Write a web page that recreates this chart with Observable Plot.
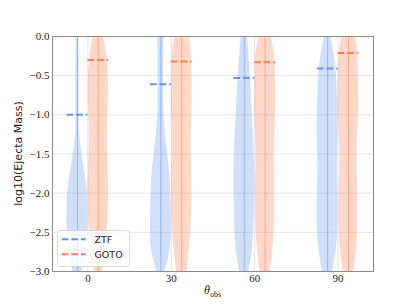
<!DOCTYPE html>
<html><head><meta charset="utf-8">
<script src="https://cdn.jsdelivr.net/npm/d3@7"></script>
<script src="https://cdn.jsdelivr.net/npm/@observablehq/plot@0.6"></script>
<style>body{margin:0;background:#fff;}</style>
</head><body><div id="chart"></div>
<script>
// ---- data ----
const angles = [0, 30, 60, 90];
const series = ["ZTF", "GOTO"];
const levels = [-3, -2.75, -2.5, -2.25, -2, -1.75, -1.5, -1.25, -1, -0.75, -0.5, -0.25, 0];
// relative violin density (1 = widest point of each violin), per level above
const ztfDensity = [
  [0.43, 0.80, 0.98, 1.00, 0.95, 0.71, 0.43, 0.20, 0.17, 0.16, 0.16, 0.15, 0.14],
  [0.40, 0.85, 1.00, 0.98, 0.94, 0.85, 0.65, 0.45, 0.30, 0.26, 0.26, 0.27, 0.30],
  [0.45, 0.75, 0.90, 0.95, 1.00, 1.00, 0.95, 0.88, 0.77, 0.68, 0.58, 0.45, 0.30],
  [0.50, 0.80, 0.98, 1.00, 0.98, 0.93, 0.95, 1.00, 0.98, 0.93, 0.85, 0.65, 0.30]
];
const gotoDensity = [
  [0.40, 0.65, 0.85, 0.95, 1.00, 0.95, 0.88, 0.85, 0.90, 0.98, 0.95, 0.80, 0.50],
  [0.50, 0.70, 0.88, 0.95, 0.99, 0.96, 0.93, 0.92, 0.98, 1.00, 0.98, 0.92, 0.70],
  [0.50, 0.72, 0.86, 0.90, 0.92, 0.89, 0.87, 0.92, 0.98, 1.00, 0.97, 0.90, 0.60],
  [0.50, 0.75, 0.88, 0.90, 0.90, 0.85, 0.83, 0.88, 1.00, 1.00, 0.98, 0.90, 0.70]
];
const ztfMedian = [-1.00, -0.61, -0.53, -0.41];
const gotoMedian = [-0.30, -0.32, -0.33, -0.21];
const yTicks = [-3, -2.5, -2, -1.5, -1, -0.5, 0];
const xTicks = [0, 30, 60, 90];

// ---- layout / style ----
const colors = {ZTF: "#6495ED", GOTO: "#FF7F50"};
const side = {ZTF: -1, GOTO: 1};
const violinWidth = 7.5;          // full violin width in x units
const half = violinWidth / 2;
const densities = {ZTF: ztfDensity, GOTO: gotoDensity};
const medians = {ZTF: ztfMedian, GOTO: gotoMedian};

const violinRows = [];
const centerRows = [];
const medianRows = [];
for (const s of series) {
  angles.forEach((a, i) => {
    const c = a + side[s] * half;
    levels.forEach((lv, j) => {
      const d = densities[s][i][j] * half;
      violinRows.push({key: s + a, series: s, y: lv, x1: c - d, x2: c + d});
    });
    centerRows.push({series: s, x: c, y1: levels[0], y2: levels[levels.length - 1]});
    medianRows.push({series: s, y: medians[s][i], x1: c - half, x2: c + half});
  });
}

const fmt = d => (d < 0 ? "\u2212" : "") + Math.abs(d).toFixed(1);

const chart = Plot.plot({
  width: 415,
  height: 305,
  marginLeft: 52,
  marginRight: 42,
  marginTop: 36,
  marginBottom: 34,
  style: {background: "#fff"},
  x: {domain: [-12.75, 102.75]},
  y: {domain: [-3, 0]},
  marks: [
    Plot.gridY(yTicks, {stroke: "#e4e4e4", strokeOpacity: 1}),
    Plot.gridX(xTicks, {stroke: "#e4e4e4", strokeOpacity: 1}),
    Plot.areaX(violinRows, {
      y: "y", x1: "x1", x2: "x2", z: "key",
      fill: d => colors[d.series], fillOpacity: 0.3,
      curve: "catmull-rom"
    }),
    Plot.ruleX(centerRows, {
      x: "x", y1: "y1", y2: "y2",
      stroke: d => colors[d.series], strokeOpacity: 0.55, strokeWidth: 1
    }),
    Plot.ruleY(medianRows, {
      y: "y", x1: "x1", x2: "x2",
      stroke: d => colors[d.series], strokeWidth: 2, strokeDasharray: "6.7,2.9"
    }),
    Plot.frame({stroke: "#8a8a8a", strokeWidth: 1}),
    Plot.axisY(yTicks, {
      tickSize: 0, tickPadding: 3, tickFormat: fmt, label: null,
      fontFamily: "Liberation Serif", fontSize: 11, fill: "#222"
    }),
    Plot.axisX(xTicks, {
      tickSize: 0, tickPadding: 3, tickFormat: d => String(d), label: null,
      fontFamily: "Liberation Serif", fontSize: 11, fill: "#222"
    })
  ]
});
document.getElementById("chart").appendChild(chart);

const svg = d3.select(chart);
// y axis label
svg.append("text")
  .attr("transform", "translate(22,153.5) rotate(-90)")
  .attr("text-anchor", "middle")
  .attr("font-family", "DejaVu Sans")
  .attr("font-size", 11)
  .attr("fill", "#222")
  .text("log10(Ejecta Mass)");
// x axis label with subscript
const xl = svg.append("text")
  .attr("x", 212.5).attr("y", 294)
  .attr("text-anchor", "middle")
  .attr("font-family", "Liberation Serif")
  .attr("fill", "#222");
xl.append("tspan").attr("font-size", 12).attr("font-style", "italic").text("\u03b8");
xl.append("tspan").attr("font-size", 8).attr("dy", 2.5).text("obs");

// legend
const lg = svg.append("g");
lg.append("rect").attr("x", 57.5).attr("y", 230.5).attr("width", 72).attr("height", 36)
  .attr("rx", 2.5).attr("fill", "#fff").attr("fill-opacity", 0.8)
  .attr("stroke", "#d6d6d6").attr("stroke-width", 1);
series.forEach((s, i) => {
  const yy = 239.3 + i * 15;
  lg.append("line").attr("x1", 61.7).attr("x2", 85.7).attr("y1", yy).attr("y2", yy)
    .attr("stroke", colors[s]).attr("stroke-width", 2).attr("stroke-dasharray", "6.7,2.9");
  lg.append("text").attr("x", 94.5).attr("y", yy + 4)
    .attr("text-anchor", "start")
    .attr("font-family", "DejaVu Sans").attr("font-size", 9.5).attr("fill", "#222")
    .text(s);
});
</script>
</body></html>
